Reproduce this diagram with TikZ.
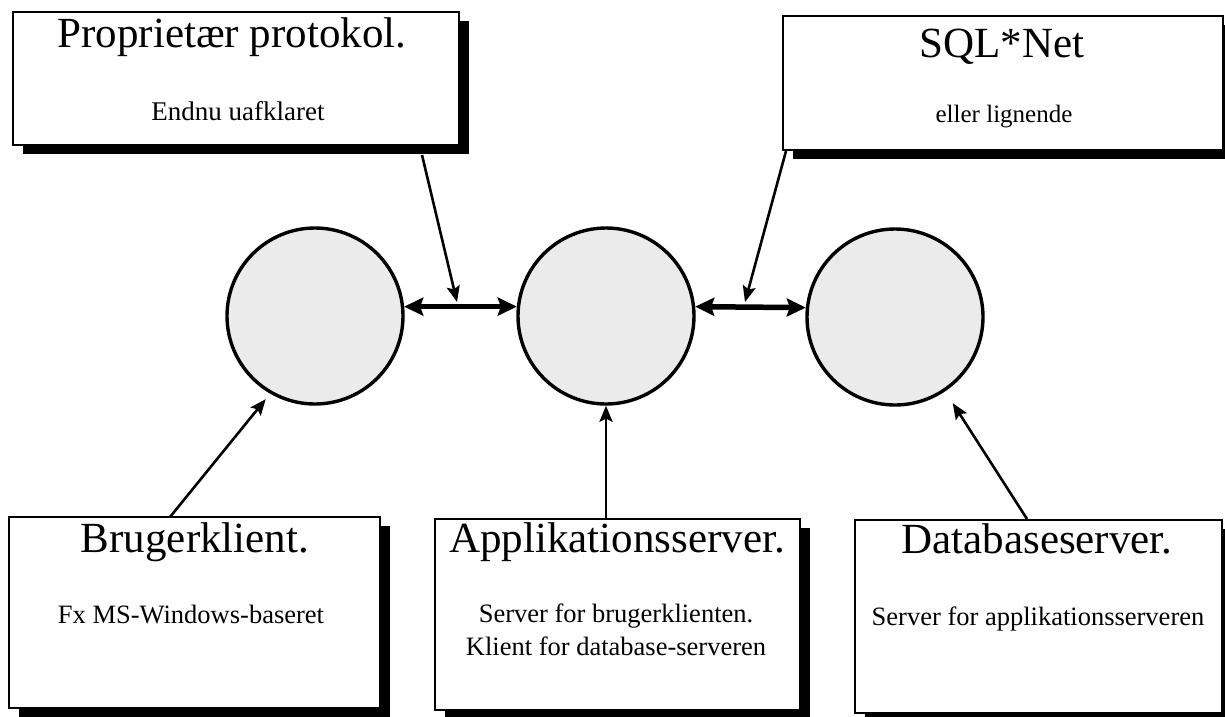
\documentclass[tikz,border=0pt]{standalone}
\usepackage{fontspec}
\setmainfont{Liberation Serif}
\usetikzlibrary{arrows.meta,shadows}
\begin{document}
\begin{tikzpicture}[x=1pt,y=-1pt,
  box/.style={draw, line width=2.4pt, fill=white, inner sep=0pt, rectangle,
    drop shadow={shadow xshift=10pt, shadow yshift=-9pt, fill=black, opacity=1}},
  ball/.style={circle, draw, line width=3.4pt, fill=black!8, minimum size=176pt, inner sep=0pt},
  ttl/.style={anchor=base, inner sep=0pt, font=\fontsize{43}{43}\selectfont},
  sub/.style={anchor=base, inner sep=0pt, font=\fontsize{26.5}{30}\selectfont},
  thinarrow/.style={line width=2.6pt, -{Stealth[length=16pt,width=13pt,inset=3pt]}},
  link/.style={line width=5.5pt, {Stealth[length=19pt,width=18pt,inset=3pt]}-{Stealth[length=19pt,width=18pt,inset=3pt]}}
]
\useasboundingbox (0,0) rectangle (1225,716);

% boxes
\node[box, minimum width=446pt, minimum height=133pt] (tl) at (236,78.5) {};
\node[box, minimum width=440pt, minimum height=134pt] (tr) at (1003,83) {};
\node[box, minimum width=371pt, minimum height=191pt] (bl) at (194.5,612.5) {};
\node[box, minimum width=365pt, minimum height=191pt] (bm) at (617.5,614.5) {};
\node[box, minimum width=367pt, minimum height=193pt] (br) at (1038.5,616.5) {};

% texts
\node[ttl] (t1) at (232,47) {Proprietær protokol.};
\node[sub, font=\fontsize{27}{30}\selectfont] (s1) at (238,120) {Endnu uafklaret};
\node[ttl] (t2) at (1002,57) {SQL*Net};
\node[sub, font=\fontsize{25}{30}\selectfont] (s2) at (1004,122) {eller lignende};
\node[ttl] (t3) at (195,552) {Brugerklient.};
\node[sub] (s3) at (191,623) {Fx MS-Windows-baseret};
\node[ttl] (t4) at (617,552) {Applikationsserver.};
\node[sub] (s4a) at (616,622) {Server for brugerklienten.};
\node[sub] (s4b) at (616,655) {Klient for database-serveren};
\node[ttl] (t5) at (1037,553) {Databaseserver.};
\node[sub] (s5) at (1038,625) {Server for applikationsserveren};

% circles
\node[ball] (c1) at (315,316) {};
\node[ball] (c2) at (606,316) {};
\node[ball] (c3) at (895,317) {};

% links between circles
\draw[link] (c1.6) -- (c2.174);
\draw[link] (c2.6) -- (c3.174);

% protocol pointers
\coordinate (tlp) at (422,155);
\coordinate (l1) at (457,302);
\coordinate (trp) at (786,151);
\coordinate (l2) at (745,302);
\draw[thinarrow] (tlp) -- (l1);
\draw[thinarrow] (trp) -- (l2);

% role pointers
\coordinate (blp) at (170,517);
\coordinate (bmp) at (c2.south |- bm.north);
\coordinate (brp) at (1027,519);
\draw[thinarrow, shorten >=7pt] (blp) -- (c1.240);
\draw[thinarrow] (bmp) -- (c2.south);
\draw[thinarrow, shorten >=14pt] (brp) -- (c3.304);
\end{tikzpicture}
\end{document}
